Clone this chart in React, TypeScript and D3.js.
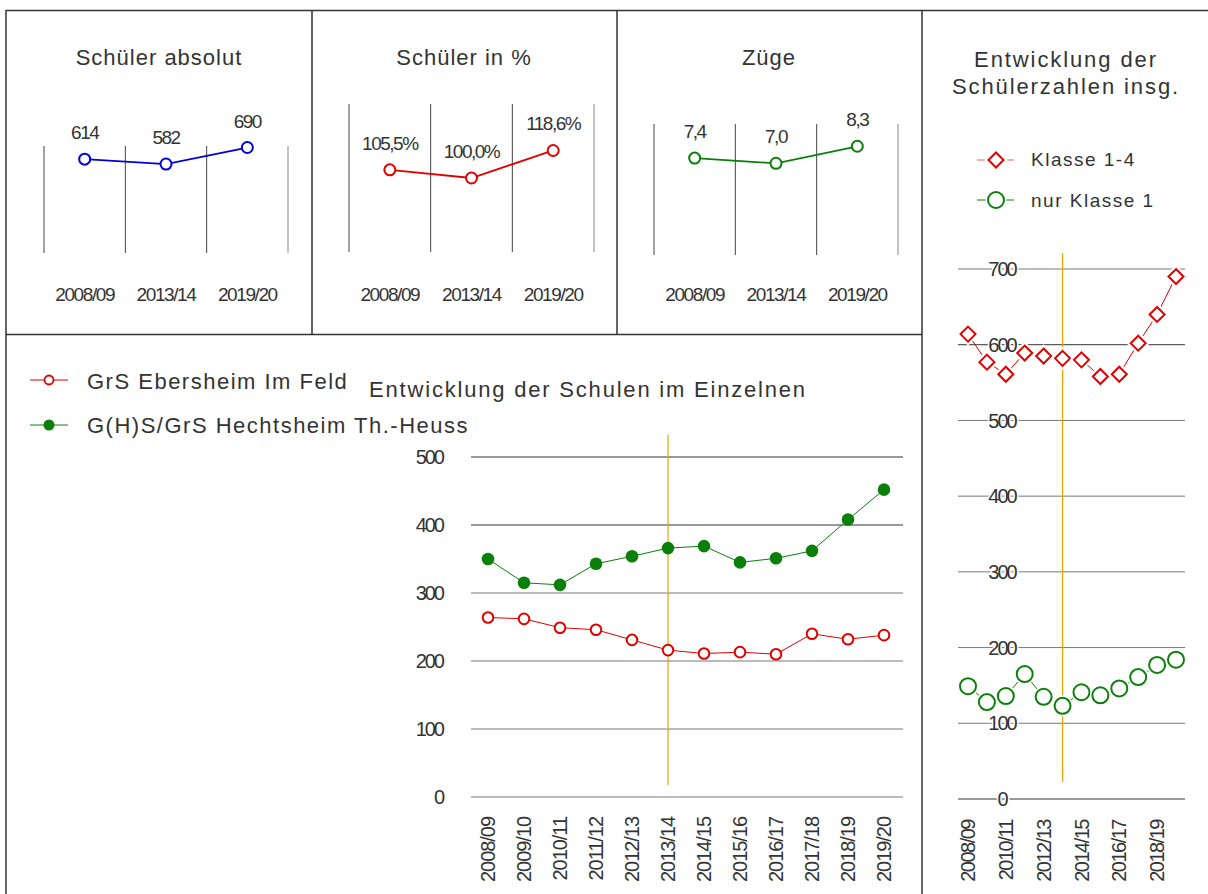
import { line, scaleBand, scaleLinear, scalePoint } from 'd3'

const W = 1208
const H = 894
const FONT = '"Liberation Sans", Arial, sans-serif'
const TXT = '#333'

// summary panels
const summaryYears = ['2008/09', '2013/14', '2019/20']
const schuelerAbs = [614, 582, 690]
const schuelerPct = [105.5, 100.0, 118.6]
const zuege = [7.4, 7.0, 8.3]

// yearly series
const years = [
  '2008/09', '2009/10', '2010/11', '2011/12', '2012/13', '2013/14',
  '2014/15', '2015/16', '2016/17', '2017/18', '2018/19', '2019/20',
]
const ebersheim = [264, 262, 249, 246, 231, 216, 211, 213, 210, 240, 232, 238]
const hechtsheim = [350, 315, 312, 343, 354, 366, 369, 345, 351, 362, 408, 452]
const klasse14 = [614, 577, 561, 589, 585, 582, 580, 558, 561, 602, 640, 690]
const klasse1 = [149, 128, 136, 165, 135, 123, 141, 137, 146, 161, 177, 184]
const refYear = '2013/14'

const bottomTicks = [0, 100, 200, 300, 400, 500]
const rightTicks = [0, 100, 200, 300, 400, 500, 600, 700]
const rightLabelYears = ['2008/09', '2010/11', '2012/13', '2014/15', '2016/17', '2018/19']

const RED = '#e00000'
const GREEN = '#0a800a'
const BLUE = '#0000d8'
const ORANGE = '#f5a000'

type Panel = {
  title: string
  cx: number
  values: number[]
  labels: string[]
  color: string
  range: [number, number]
  domain: [number, number]
  yTop: number
  yBot: number
}

function SmallPanel({ p }: { p: Panel }) {
  const x = scaleBand().domain(summaryYears).range(p.range)
  const y = scaleLinear().domain(p.domain).range([p.yBot, p.yTop])
  const cx = (d: string) => (x(d) ?? 0) + x.bandwidth() / 2
  const edges = [...summaryYears.map((d) => x(d) ?? 0), p.range[1]]
  const path = line<number>()
    .x((_, i) => cx(summaryYears[i]))
    .y((d) => y(d))
  return (
    <g>
      <text x={p.cx} y={65} textAnchor="middle" fontSize={22} letterSpacing={1} fill={TXT}>
        {p.title}
      </text>
      {edges.map((e, i) => (
        <line key={i} x1={e} x2={e} y1={p.yTop} y2={p.yBot} stroke={i === 3 ? '#888' : '#444'} strokeWidth={1} />
      ))}
      <path d={path(p.values) ?? ''} fill="none" stroke={p.color} strokeWidth={1.8} />
      {p.values.map((v, i) => (
        <g key={i}>
          <circle cx={cx(summaryYears[i])} cy={y(v)} r={5.5} fill="#fff" stroke={p.color} strokeWidth={2} />
          <text x={cx(summaryYears[i])} y={y(v) - 20} textAnchor="middle" fontSize={19} letterSpacing={-1.5} fill={TXT}>
            {p.labels[i]}
          </text>
        </g>
      ))}
      {summaryYears.map((d) => (
        <text key={d} x={cx(d)} y={301} textAnchor="middle" fontSize={19} letterSpacing={-1.4} fill={TXT}>
          {d}
        </text>
      ))}
    </g>
  )
}

function Diamond({ x, y, s, stroke, halo }: { x: number; y: number; s: number; stroke: string; halo?: boolean }) {
  const d = `M${x},${y - s}L${x + s},${y}L${x},${y + s}L${x - s},${y}Z`
  return (
    <g>
      {halo && <path d={d} fill="#fff" stroke="#fff" strokeWidth={6} />}
      <path d={d} fill="#fff" stroke={stroke} strokeWidth={2} />
    </g>
  )
}

export default function App() {
  const panels: Panel[] = [
    {
      title: 'Schüler absolut', cx: 159, values: schuelerAbs, labels: schuelerAbs.map(String),
      color: BLUE, range: [44, 288], domain: [0, 700], yTop: 146, yBot: 253,
    },
    {
      title: 'Schüler in %', cx: 464, values: schuelerPct,
      labels: schuelerPct.map((v) => v.toFixed(1).replace('.', ',') + '%'),
      color: RED, range: [349, 594], domain: [50, 150], yTop: 104, yBot: 252,
    },
    {
      title: 'Züge', cx: 769, values: zuege, labels: zuege.map((v) => v.toFixed(1).replace('.', ',')),
      color: GREEN, range: [654, 898], domain: [0, 10], yTop: 124, yBot: 255,
    },
  ]

  // bottom chart
  const bx = scalePoint().domain(years).range([488, 884])
  const by = scaleLinear().domain([0, 500]).range([797, 457])
  const bLine = line<number>()
    .x((_, i) => bx(years[i]) ?? 0)
    .y((d) => by(d))

  // right chart
  const rx = scalePoint().domain(years).range([968, 1176])
  const ry = scaleLinear().domain([0, 700]).range([799, 269])
  const rLine = line<number>()
    .x((_, i) => rx(years[i]) ?? 0)
    .y((d) => ry(d))

  return (
    <svg width={W} height={H} style={{ position: 'absolute', left: 0, top: 0 }} fontFamily={FONT}>
      <rect width={W} height={H} fill="#fff" />

      {/* frames */}
      <g stroke="#333" strokeWidth={1.5} fill="none">
        <line x1={6} x2={W} y1={10.5} y2={10.5} />
        <line x1={6} x2={6} y1={10} y2={H} />
        <line x1={312} x2={312} y1={10} y2={334.5} />
        <line x1={617} x2={617} y1={10} y2={334.5} />
        <line x1={922} x2={922} y1={10} y2={H} />
        <line x1={6} x2={922} y1={334.5} y2={334.5} />
      </g>

      {panels.map((p) => (
        <SmallPanel key={p.title} p={p} />
      ))}

      {/* bottom chart */}
      <text x={588} y={397} textAnchor="middle" fontSize={22} letterSpacing={1.8} fill={TXT}>
        Entwicklung der Schulen im Einzelnen
      </text>
      <g>
        <line x1={30} x2={68} y1={380} y2={380} stroke={RED} strokeWidth={1} />
        <circle cx={49} cy={380} r={4.5} fill="#fff" stroke={RED} strokeWidth={1.8} />
        <text x={87} y={389} fontSize={22} letterSpacing={1.5} fill={TXT}>GrS Ebersheim Im Feld</text>
        <line x1={30} x2={68} y1={425} y2={425} stroke={GREEN} strokeWidth={1} />
        <circle cx={49} cy={425} r={5.5} fill={GREEN} />
        <text x={87} y={433} fontSize={22} letterSpacing={1.5} fill={TXT}>G(H)S/GrS Hechtsheim Th.-Heuss</text>
      </g>
      {bottomTicks.map((t) => (
        <g key={t}>
          <line x1={471} x2={903} y1={by(t)} y2={by(t)} stroke={t >= 400 ? '#333' : '#777'} strokeWidth={1} />
          <text x={443} y={by(t)} dy="0.36em" textAnchor="end" fontSize={20} letterSpacing={-2} fill={TXT}>
            {t}
          </text>
        </g>
      ))}
      <line x1={bx(refYear)} x2={bx(refYear)} y1={435} y2={785} stroke={ORANGE} strokeWidth={1.2} />
      <path d={bLine(hechtsheim) ?? ''} fill="none" stroke={GREEN} strokeWidth={1} />
      {hechtsheim.map((v, i) => (
        <circle key={i} cx={bx(years[i])} cy={by(v)} r={6.3} fill={GREEN} />
      ))}
      <path d={bLine(ebersheim) ?? ''} fill="none" stroke={RED} strokeWidth={1} />
      {ebersheim.map((v, i) => (
        <circle key={i} cx={bx(years[i])} cy={by(v)} r={5.3} fill="#fff" stroke={RED} strokeWidth={2} />
      ))}
      {years.map((d) => (
        <text
          key={d}
          transform={`translate(${bx(d)},817) rotate(-90)`}
          dy="0.36em"
          textAnchor="end"
          fontSize={20}
          letterSpacing={-1.05}
          fill={TXT}
        >
          {d}
        </text>
      ))}

      {/* right chart */}
      <text x={1066} y={67} textAnchor="middle" fontSize={22} letterSpacing={1.9} fill={TXT}>Entwicklung der</text>
      <text x={1066} y={94} textAnchor="middle" fontSize={22} letterSpacing={1.9} fill={TXT}>Schülerzahlen insg.</text>
      <g>
        <line x1={977} x2={1014} y1={160} y2={160} stroke="#e86060" strokeWidth={1.2} />
        <Diamond x={996} y={160} s={7.5} stroke={RED} halo />
        <text x={1031} y={166} fontSize={19} letterSpacing={1.5} fill={TXT}>Klasse 1-4</text>
        <line x1={977} x2={1014} y1={200} y2={200} stroke={GREEN} strokeWidth={1.2} />
        <circle cx={996} cy={200} r={8} fill="#fff" stroke="#fff" strokeWidth={5} />
        <circle cx={996} cy={200} r={8} fill="#fff" stroke={GREEN} strokeWidth={2} />
        <text x={1031} y={207} fontSize={19} letterSpacing={1.5} fill={TXT}>nur Klasse 1</text>
      </g>
      {rightTicks.map((t) => (
        <g key={t}>
          <line x1={958} x2={1185} y1={ry(t)} y2={ry(t)} stroke={t === 600 || t === 0 ? '#333' : '#777'} strokeWidth={1} />
          <text
            x={1002}
            y={ry(t)}
            dy="0.36em"
            textAnchor="middle"
            fontSize={20}
            letterSpacing={-2}
            fill={TXT}
            stroke="#fff"
            strokeWidth={3}
            paintOrder="stroke"
          >
            {t}
          </text>
        </g>
      ))}
      <line x1={rx(refYear)} x2={rx(refYear)} y1={253} y2={782} stroke={ORANGE} strokeWidth={1.2} />
      <path d={rLine(klasse14) ?? ''} fill="none" stroke={RED} strokeWidth={1} />
      {klasse14.map((v, i) => (
        <Diamond key={i} x={rx(years[i]) ?? 0} y={ry(v)} s={7.5} stroke={RED} halo />
      ))}
      <path d={rLine(klasse1) ?? ''} fill="none" stroke={GREEN} strokeWidth={1} />
      {klasse1.map((v, i) => (
        <g key={i}>
          <circle cx={rx(years[i])} cy={ry(v)} r={8} fill="#fff" stroke="#fff" strokeWidth={5} />
          <circle cx={rx(years[i])} cy={ry(v)} r={8} fill="#fff" stroke={GREEN} strokeWidth={2} />
        </g>
      ))}
      {rightLabelYears.map((d) => (
        <text
          key={d}
          transform={`translate(${rx(d)},820) rotate(-90)`}
          dy="0.36em"
          textAnchor="end"
          fontSize={20}
          letterSpacing={-1.5}
          fill={TXT}
        >
          {d}
        </text>
      ))}
    </svg>
  )
}
